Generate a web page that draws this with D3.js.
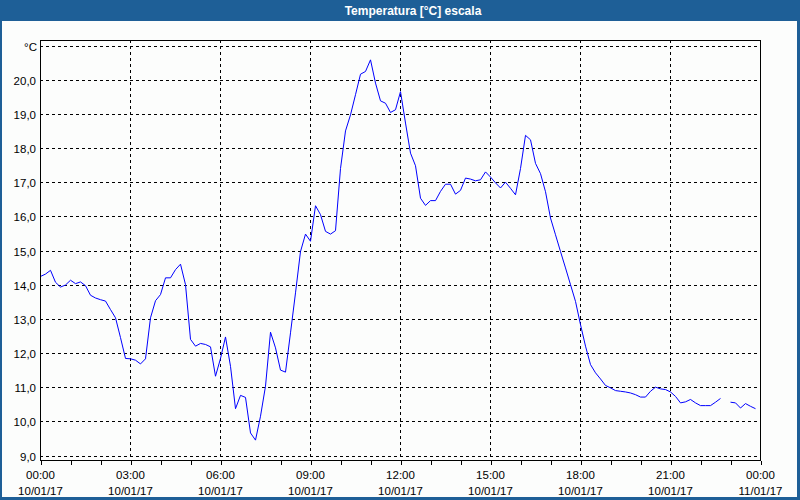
<!DOCTYPE html>
<html><head><meta charset="utf-8">
<script src="https://cdn.jsdelivr.net/npm/d3@7"></script>
<style>body{margin:0;background:#fff}svg{display:block}</style>
</head><body><svg id="c" width="800" height="500"></svg>
<script>
const title = "Temperatura [°C] escala";
const unitLabel = "°C";
const startTime = "2017-01-10T00:00:00";
const stepMinutes = 10;
// temperature every 10 minutes (null = missing)
const values = [
14.24,14.31,14.42,14.07,13.93,13.99,14.13,14.03,14.08,13.97,
13.69,13.61,13.56,13.52,13.27,13.03,12.45,11.84,11.83,11.79,
11.68,11.83,13.03,13.53,13.71,14.20,14.20,14.44,14.60,14.00,
12.40,12.20,12.28,12.25,12.18,11.32,11.84,12.47,11.61,10.37,
10.76,10.70,9.66,9.45,10.15,11.03,12.61,12.15,11.50,11.44,
12.59,13.76,14.97,15.48,15.27,16.31,16.05,15.56,15.48,15.58,
17.40,18.50,18.97,19.56,20.16,20.24,20.58,19.90,19.38,19.31,
19.04,19.12,19.65,18.73,17.85,17.48,16.53,16.32,16.46,16.46,
16.73,16.94,16.94,16.65,16.76,17.12,17.09,17.04,17.07,17.30,
17.15,16.98,16.83,17.00,16.82,16.63,17.40,18.37,18.24,17.55,
17.25,16.72,15.95,15.46,14.97,14.49,14.00,13.51,12.83,12.20,
11.66,11.42,11.24,11.05,10.98,10.90,10.88,10.86,10.83,10.78,
10.71,10.71,10.88,11.00,10.95,10.93,10.86,10.73,10.54,10.57,
10.64,10.54,10.46,10.46,10.46,10.56,10.67,null,10.56,10.54,
10.39,10.52,10.44,10.37
];
const yTicks = [9,10,11,12,13,14,15,16,17,18,19,20];
const yTop = 21;
const xTickHours = [0,3,6,9,12,15,18,21,24];

const svg = d3.select("#c");
const W = 800, H = 500;
const m = {l:40, t:40, r:760, b:460};
const t0 = new Date(startTime);
const data = values.map((v,i)=>({t:new Date(t0.getTime()+i*stepMinutes*60000), v}));
const tEnd = d3.timeHour.offset(t0, 24);

const x = d3.scaleTime().domain([t0, tEnd]).range([m.l+0.5, m.r+0.5]);
const y = d3.scaleLinear().domain([9, 21]).range([455.5, 45.5]);

// window frame
svg.append("rect").attr("width",W).attr("height",H).attr("fill","#1e5f97");
svg.append("rect").attr("x",2).attr("y",21).attr("width",W-5).attr("height",H-24).attr("fill","#fcfdfc");
svg.append("text").attr("x",413).attr("y",15).attr("text-anchor","middle")
  .attr("font-family","Liberation Sans, Arial, sans-serif").attr("font-weight","bold")
  .attr("font-size","12px").attr("fill","#fff").text(title);

const font = "Liberation Sans, Arial, sans-serif";
const g = svg.append("g");

// horizontal gridlines
const hg = [...yTicks, yTop];
g.selectAll(".hg").data(hg).join("line")
  .attr("x1",m.l).attr("x2",m.r).attr("y1",d=>Math.round(y(d))+0.5).attr("y2",d=>Math.round(y(d))+0.5)
  .attr("stroke","#000").attr("stroke-dasharray","3,3").attr("shape-rendering","crispEdges");
// vertical gridlines
const vg = xTickHours.slice(1,-1).map(h=>d3.timeHour.offset(t0,h));
g.selectAll(".vg").data(vg).join("line")
  .attr("x1",d=>x(d)).attr("x2",d=>x(d)).attr("y1",m.t).attr("y2",m.b)
  .attr("stroke","#000").attr("stroke-dasharray","3,3").attr("shape-rendering","crispEdges");

// y labels
g.selectAll(".yl").data(yTicks).join("text")
  .attr("x",36).attr("y",d=>Math.round(y(d))+4.5).attr("text-anchor","end")
  .attr("font-family",font).attr("font-size","11.5px").attr("fill","#000")
  .text(d=>d3.format(".1f")(d).replace(".",","));
g.append("text").attr("x",37).attr("y",Math.round(y(yTop))+4.5).attr("text-anchor","end")
  .attr("font-family",font).attr("font-size","11.5px").attr("fill","#000").text(unitLabel);

// x axis ticks (hourly)
const xAxis = d3.axisBottom(x).ticks(d3.timeHour.every(1)).tickSize(4).tickFormat("");
const ax = svg.append("g").attr("transform",`translate(0,${m.b+0.5})`).call(xAxis);
ax.select(".domain").remove();
ax.selectAll("line").attr("stroke","#000").attr("shape-rendering","crispEdges");

// x labels
const xl = xTickHours.map(h=>d3.timeHour.offset(t0,h));
const fT = d3.timeFormat("%H:%M"), fD = d3.timeFormat("%d/%m/%y");
g.selectAll(".xl1").data(xl).join("text")
  .attr("x",d=>x(d)).attr("y",479).attr("text-anchor","middle")
  .attr("font-family",font).attr("font-size","11.5px").attr("fill","#000").text(fT);
g.selectAll(".xl2").data(xl).join("text")
  .attr("x",d=>x(d)).attr("y",495).attr("text-anchor","middle")
  .attr("font-family",font).attr("font-size","11.5px").attr("fill","#000").text(fD);

// data line
const line = d3.line().defined(d=>d.v!==null).x(d=>x(d.t)).y(d=>y(d.v));
svg.append("path").datum(data).attr("d",line).attr("fill","none")
  .attr("stroke","#0000ff").attr("stroke-width",1);

// plot frame
svg.append("rect").attr("x",m.l+0.5).attr("y",m.t+0.5).attr("width",m.r-m.l).attr("height",m.b-m.t)
  .attr("fill","none").attr("stroke","#000").attr("shape-rendering","crispEdges");
</script></body></html>
